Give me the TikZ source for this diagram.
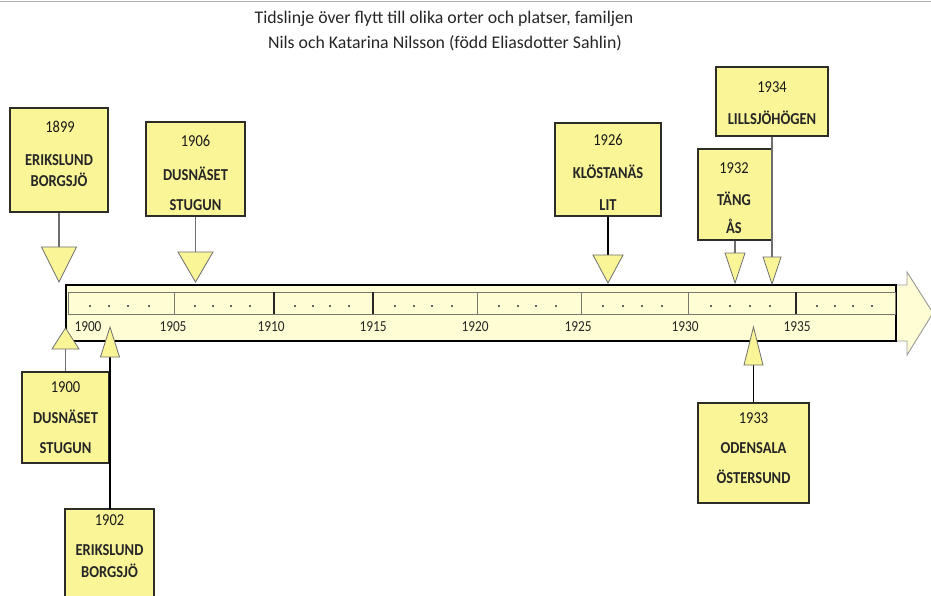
\documentclass[tikz,border=0pt]{standalone}
\usepackage{fontspec}
\setmainfont{Carlito}
\definecolor{boxfill}{RGB}{250,246,152}
\definecolor{boxline}{RGB}{45,45,40}
\definecolor{barfill}{RGB}{255,253,212}
\definecolor{conngray}{RGB}{110,110,110}
\definecolor{tickgray}{RGB}{120,120,110}
\newcommand{\tallt}[1]{\scalebox{1}[1.15]{#1}}
\begin{document}
\begin{tikzpicture}[x=1pt,y=-1pt,
  boxst/.style={draw=boxline, fill=boxfill, line width=1.1pt, inner sep=0pt, rectangle},
  boxtxt/.style={anchor=base, inner sep=0pt, font=\fontsize{14.5}{15}\selectfont\bfseries, text=black!85},
  yeartxt/.style={anchor=base, inner sep=0pt, font=\fontsize{14.5}{15}\selectfont, text=black!90},
  tri/.style={draw=conngray, fill=boxfill, line width=0.8pt, line join=miter},
  conn/.style={draw=conngray, line width=1.2pt},
  connb/.style={draw=black, line width=1.4pt},
  axtxt/.style={anchor=base, inner sep=0pt, font=\fontsize{13.3}{14}\selectfont, text=black!85},
  titletxt/.style={inner sep=0pt, anchor=base, font=\fontsize{17.8}{19}\selectfont, text=black!85}
]
\useasboundingbox (0,0) rectangle (931,596);
\fill[white] (0,0) rectangle (931,596);
% top rule
\draw[gray!60, line width=1pt] (0,2) -- (931,2);
% title
\node[titletxt] (title1) at (444,24) {Tidslinje över flytt till olika orter och platser, familjen};
\node[titletxt] (title2) at (445,49) {Nils och Katarina Nilsson (född Eliasdotter Sahlin)};

% timeline arrow
\path[fill=barfill, draw=gray!80, line width=0.9pt]
  (66,285) -- (907,285) -- (907,272) -- (933,313) -- (907,355) -- (907,341) -- (66,341) -- cycle;
\draw[black, line width=1.2pt] (66,285) rectangle (896,341);
\draw[tickgray, line width=0.8pt] (68,292) rectangle (895,314);
% ticks
\foreach \t in {174,477,581,688}{\draw[tickgray, line width=0.9pt] (\t,292) -- (\t,314);}
\foreach \t in {274,373,796}{\draw[black!85, line width=1.3pt] (\t,292) -- (\t,314);}
% dots
\foreach \a/\b in {68/174,174/274,274/373,373/477,477/581,581/688,688/796,796/896}{
  \foreach \f in {0.21,0.39,0.57,0.76}{
    \fill[black!60] ({\a+\f*(\b-\a)-1},305) rectangle ({\a+\f*(\b-\a)+1},307);
  }
}
% axis labels
\node[axtxt] (l1900) at (88,331) {\tallt{1900}};
\node[axtxt] (l1905) at (173,331) {\tallt{1905}};
\node[axtxt] (l1910) at (271,331) {\tallt{1910}};
\node[axtxt] (l1915) at (373,331) {\tallt{1915}};
\node[axtxt] (l1920) at (475,331) {\tallt{1920}};
\node[axtxt] (l1925) at (578,331) {\tallt{1925}};
\node[axtxt] (l1930) at (685,331) {\tallt{1930}};
\node[axtxt] (l1935) at (797,331) {\tallt{1935}};

% ---------- upper boxes ----------
\node[boxst, minimum width=98pt, minimum height=104pt] (b1899) at (59,160) {};
\node[boxst, minimum width=99pt, minimum height=94pt] (b1906) at (195.5,169) {};
\node[boxst, minimum width=106pt, minimum height=93pt] (b1926) at (608,169.5) {};
\node[boxst, minimum width=112pt, minimum height=69pt] (b1934) at (772,101.5) {};
\node[boxst, minimum width=74pt, minimum height=91pt] (b1932) at (735,194.5) {};

% ---------- lower boxes ----------
\node[boxst, minimum width=87pt, minimum height=91pt] (b1900) at (65.5,417.5) {};
\node[boxst, minimum width=89pt, minimum height=100pt] (b1902) at (109.5,559) {};
\node[boxst, minimum width=111pt, minimum height=100pt] (b1933) at (753.5,453) {};

% connector end points
\coordinate (t1899) at (59,247);
\coordinate (t1906) at (195.5,252);
\coordinate (t1926) at (608,255);
\coordinate (t1932) at (735,253);
\coordinate (t1934) at (772,257);
\coordinate (t1900) at (65.5,349);
\coordinate (t1902) at (110,357);
\coordinate (t1933) at (753.5,365);
\coordinate (s1902) at (110,509);

% connectors
\draw[conn] (b1899.south) -- (t1899);
\draw[conn] (b1906.south) -- (t1906);
\draw[connb] (b1926.south) -- (t1926);
\draw[conn] (b1932.south) -- (t1932);
\draw[conn] (b1934.south) -- (t1934);
\draw[conn] (b1900.north) -- (t1900);
\draw[connb] (s1902) -- (t1902);
\draw[connb] (b1933.north) -- (t1933);

% triangles (down)
\draw[tri] (41.5,247) -- (76.5,247) -- (59,282) -- cycle;
\draw[tri] (178,252) -- (213,252) -- (195.5,282) -- cycle;
\draw[tri] (593,255) -- (623,255) -- (608,283) -- cycle;
\draw[tri] (725,253) -- (745,253) -- (735,283) -- cycle;
\draw[tri] (763,257) -- (781,257) -- (772,284) -- cycle;
% triangles (up)
\draw[tri] (52,349) -- (79,349) -- (65.5,328) -- cycle;
\draw[tri] (100.5,357) -- (119.5,357) -- (110,327) -- cycle;
\draw[tri] (744,365) -- (763,365) -- (753.5,327) -- cycle;

% box texts
\node[yeartxt] (y1899) at (60,133) {\tallt{1899}};
\node[boxtxt] (p1899a) at (59,165.5) {\tallt{ERIKSLUND}};
\node[boxtxt] (p1899b) at (59,186.5) {\tallt{BORGSJÖ}};

\node[yeartxt] (y1906) at (195.5,147) {\tallt{1906}};
\node[boxtxt] (p1906a) at (195.5,180.5) {\tallt{DUSNÄSET}};
\node[boxtxt] (p1906b) at (195.5,210.5) {\tallt{STUGUN}};

\node[yeartxt] (y1926) at (608,146) {\tallt{1926}};
\node[boxtxt] (p1926a) at (608,178.5) {\tallt{KLÖSTANÄS}};
\node[boxtxt] (p1926b) at (608,210.5) {\tallt{LIT}};

\node[yeartxt] (y1934) at (772,93) {\tallt{1934}};
\node[boxtxt] (p1934a) at (772,124.5) {\tallt{LILLSJÖHÖGEN}};

\node[yeartxt] (y1932) at (734,174) {\tallt{1932}};
\node[boxtxt] (p1932a) at (734,205.5) {\tallt{TÄNG}};
\node[boxtxt] (p1932b) at (734,233.5) {\tallt{ÅS}};

\node[yeartxt] (y1900) at (65.5,392) {\tallt{1900}};
\node[boxtxt] (p1900a) at (65.5,423.5) {\tallt{DUSNÄSET}};
\node[boxtxt] (p1900b) at (65.5,453.5) {\tallt{STUGUN}};

\node[yeartxt] (y1902) at (109.5,525) {\tallt{1902}};
\node[boxtxt] (p1902a) at (109.5,555.5) {\tallt{ERIKSLUND}};
\node[boxtxt] (p1902b) at (109.5,577.5) {\tallt{BORGSJÖ}};

\node[yeartxt] (y1933) at (753.5,423) {\tallt{1933}};
\node[boxtxt] (p1933a) at (753.5,453.5) {\tallt{ODENSALA}};
\node[boxtxt] (p1933b) at (753.5,483.5) {\tallt{ÖSTERSUND}};
\end{tikzpicture}
\end{document}
